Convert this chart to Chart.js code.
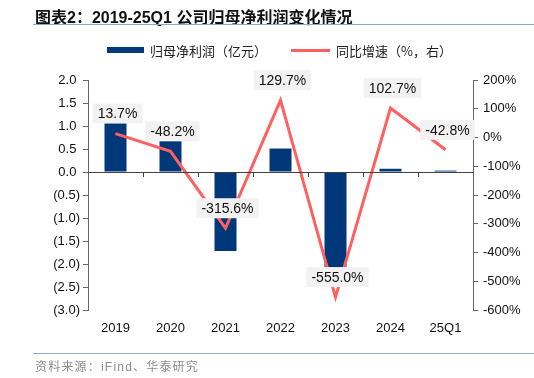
<!DOCTYPE html>
<html>
<head>
<meta charset="utf-8">
<script src="https://cdn.jsdelivr.net/npm/chart.js@4.4.1/dist/chart.umd.min.js"></script>
<style>
  body { margin: 0; background: #fff; font-family: "Liberation Sans", "Noto Sans CJK SC", sans-serif; }
  #wrap { position: relative; width: 534px; height: 378px; overflow: hidden; }
  #title { position: absolute; left: 35px; top: 4px; font-size: 16px; font-weight: bold; color: #111;
           font-family: "Liberation Sans", "Noto Sans CJK SC", sans-serif; white-space: nowrap; }
  .rule { position: absolute; left: 33px; right: 0; height: 1px; background: #8ea8c8; }
  #src { position: absolute; left: 35px; top: 357px; font-size: 12px; color: #8c8c8c; letter-spacing: 1.2px;
         font-family: "Liberation Sans", "Noto Sans CJK SC", sans-serif; white-space: nowrap; }
  .leg { position: absolute; top: 41px; font-size: 13px; color: #222; white-space: nowrap;
         font-family: "Noto Sans CJK SC", sans-serif; }
  canvas { position: absolute; left: 0; top: 0; }
</style>
</head>
<body>
<div id="wrap">
  <canvas id="profitChart" width="534" height="378"></canvas>
  <div id="title">图表2：2019-25Q1 公司归母净利润变化情况</div>
  <div class="rule" style="top:24px"></div>
  <div class="leg" style="left:107px"><span style="display:inline-block;width:37px;height:6px;background:#00387a;vertical-align:middle;margin-right:6px;position:relative;top:-2px"></span>归母净利润（亿元）</div>
  <div class="leg" style="left:291px"><span style="display:inline-block;width:39px;height:3px;background:#ff5f5f;vertical-align:middle;margin-right:6px;position:relative;top:-2px"></span>同比增速（%，右）</div>
  <div class="rule" style="top:353px"></div>
  <div id="src">资料来源：iFind、华泰研究</div>
</div>
<script>
    // Data
    var categories = ['2019', '2020', '2021', '2022', '2023', '2024', '25Q1'];
    var netProfit = [1.08, 0.69, -1.72, 0.51, -2.32, 0.07, 0.03];   // 亿元
    var growthPct = [13.7, -48.2, -315.6, 129.7, -555.0, 102.7, -42.8]; // %
    var leftTicks = [2.0, 1.5, 1.0, 0.5, 0.0, -0.5, -1.0, -1.5, -2.0, -2.5, -3.0];
    var rightTicks = [200, 100, 0, -100, -200, -300, -400, -500, -600];

    var tickFont = { family: 'Liberation Sans', size: 13 };

    // zero line, x tick marks and percentage labels
    var extras = {
        id: 'extras',
        afterDatasetsDraw: function (chart) {
            var ctx = chart.ctx;
            var area = chart.chartArea;
            var x = chart.scales.x;
            var y0 = chart.scales.y.getPixelForValue(0);
            ctx.save();
            ctx.strokeStyle = '#404040';
            ctx.lineWidth = 1;
            ctx.beginPath();
            ctx.moveTo(area.left, Math.round(y0) + 0.5);
            ctx.lineTo(area.right, Math.round(y0) + 0.5);
            for (var i = 1; i < categories.length; i++) {
                var tx = Math.round(x.getPixelForValue(i - 0.5)) + 0.5;
                ctx.moveTo(tx, Math.round(y0));
                ctx.lineTo(tx, Math.round(y0) + 5);
            }
            ctx.stroke();

            var meta = chart.getDatasetMeta(1);
            ctx.font = '14px "Liberation Sans"';
            ctx.textAlign = 'center';
            ctx.textBaseline = 'middle';
            meta.data.forEach(function (pt, i) {
                var txt = growthPct[i].toFixed(1) + '%';
                var w = ctx.measureText(txt).width + 10;
                var cx = pt.x + 2;
                var cy = pt.y - 20;
                ctx.fillStyle = '#f2f2f2';
                ctx.fillRect(cx - w / 2, cy - 10, w, 20);
                ctx.fillStyle = '#111';
                ctx.fillText(txt, cx, cy + 1);
            });
            ctx.restore();
        }
    };

    var ctxProfit = document.getElementById('profitChart').getContext('2d');
    new Chart(ctxProfit, {
        data: {
            labels: categories,
            datasets: [{
                type: 'bar',
                label: '归母净利润（亿元）',
                data: netProfit,
                backgroundColor: '#00387a',
                barPercentage: 0.4,
                categoryPercentage: 1.0,
                yAxisID: 'y',
                order: 2
            }, {
                type: 'line',
                label: '同比增速（%，右）',
                data: growthPct,
                borderColor: '#ff5f5f',
                borderWidth: 3,
                pointRadius: 0,
                tension: 0,
                fill: false,
                yAxisID: 'y1',
                order: 1
            }]
        },
        options: {
            responsive: false,
            animation: false,
            layout: { padding: { top: 80, bottom: 40, left: 0, right: 0 } },
            plugins: {
                legend: { display: false },
                tooltip: { enabled: false }
            },
            scales: {
                x: {
                    grid: { display: false, drawTicks: false },
                    border: { display: false },
                    ticks: { color: '#111', font: tickFont, padding: 11, maxRotation: 0 },
                    afterFit: function (s) { s.height = 28; }
                },
                y: {
                    position: 'left',
                    min: -3, max: 2,
                    afterBuildTicks: function (s) { s.ticks = leftTicks.map(function (v) { return { value: v }; }); },
                    grid: { drawOnChartArea: false, drawTicks: true, tickLength: 5, color: '#666' },
                    border: { color: '#666' },
                    ticks: {
                        color: '#111', font: tickFont, padding: 3,
                        callback: function (v) { return v < 0 ? '(' + Math.abs(v).toFixed(1) + ')' : v.toFixed(1) + ' '; }
                    },
                    afterFit: function (s) { s.width = 88; }
                },
                y1: {
                    position: 'right',
                    min: -600, max: 200,
                    afterBuildTicks: function (s) { s.ticks = rightTicks.map(function (v) { return { value: v }; }); },
                    grid: { drawOnChartArea: false, drawTicks: true, tickLength: 5, color: '#666' },
                    border: { color: '#666' },
                    ticks: {
                        color: '#111', font: tickFont, padding: 5,
                        callback: function (v) { return v + '%'; }
                    },
                    afterFit: function (s) { s.width = 61; }
                }
            }
        },
        plugins: [extras]
    });
</script>
</body>
</html>
